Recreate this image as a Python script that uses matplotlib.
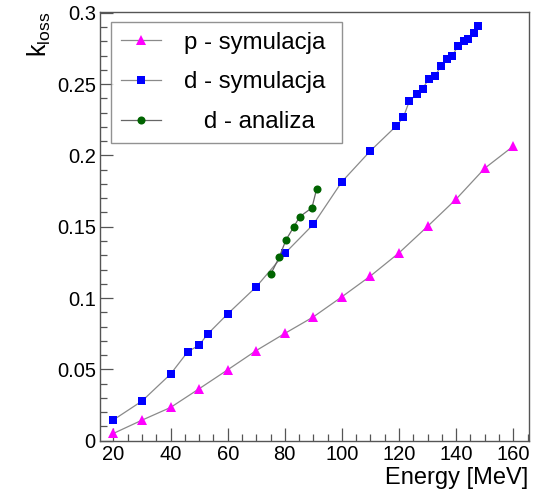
import matplotlib
matplotlib.use("Agg")
import matplotlib.pyplot as plt
from matplotlib.ticker import MultipleLocator

# ============================================
# DATA
# ============================================

energy_p = [20, 30, 40, 50, 60, 70, 80, 90, 100, 110, 120, 130, 140, 150, 160]
kloss_p = [0.0051, 0.0144, 0.0233, 0.0364, 0.0497, 0.0632, 0.0752, 0.0868,
           0.1009, 0.1155, 0.1317, 0.1503, 0.1694, 0.1910, 0.2065]

energy_d = [20, 30, 40, 46, 50, 53, 60, 70, 80, 90, 100, 110, 119, 121.5,
            123.6, 126.2, 128.3, 130.4, 132.6, 134.7, 136.9, 138.7, 140.5,
            142.6, 144.3, 146.3, 147.5]
kloss_d = [0.0146, 0.0278, 0.0467, 0.0623, 0.0670, 0.0748, 0.0889, 0.1079,
           0.1313, 0.1517, 0.1816, 0.2033, 0.2206, 0.2267, 0.2381, 0.2430,
           0.2468, 0.2538, 0.2557, 0.2627, 0.2678, 0.2697, 0.2767, 0.2800,
           0.2818, 0.2860, 0.2910]

energy_a = [75.1, 78.0, 80.4, 83.1, 85.2, 89.5, 91.1]
kloss_a = [0.1168, 0.1285, 0.1407, 0.1498, 0.1570, 0.1633, 0.1762]

labels = ["p - symulacja ", "d - symulacja ", "   d - analiza"]

# ============================================
# STYLE
# ============================================

plt.rcParams["font.family"] = ["Liberation Sans", "DejaVu Sans"]
plt.rcParams["mathtext.fontset"] = "custom"
plt.rcParams["mathtext.rm"] = "Liberation Sans"
plt.rcParams["mathtext.it"] = "Liberation Sans"

frame_col = "#555555"
line_col = "#8a8a8a"

fig = plt.figure(figsize=(5.43, 4.97), dpi=100)
ax = fig.add_axes([0.1842, 0.1133, 0.7895, 0.8632])

ax.plot(energy_p, kloss_p, color=line_col, lw=0.9, marker="^", ms=7.5,
        mfc="#ff00ff", mec="#ff00ff", mew=0, label=labels[0])
ax.plot(energy_d, kloss_d, color=line_col, lw=0.9, marker="s", ms=5.8,
        mfc="#0000ff", mec="#0000ff", mew=0, label=labels[1])
ax.plot(energy_a, kloss_a, color="#666666", lw=0.9, marker="o", ms=5.8,
        mfc="#006400", mec="#006400", mew=0, label=labels[2])

ax.set_xlim(15.3, 165.4)
ax.set_ylim(0, 0.3008)

ax.xaxis.set_major_locator(MultipleLocator(20))
ax.xaxis.set_minor_locator(MultipleLocator(5))
ax.yaxis.set_major_locator(MultipleLocator(0.05))
ax.yaxis.set_minor_locator(MultipleLocator(0.01))
ax.yaxis.set_major_formatter(lambda v, p: "0" if abs(v) < 1e-9 else f"{v:g}")

ax.tick_params(which="both", direction="in", top=False, right=False,
               color=frame_col, labelsize=14.5, width=0.9)
ax.tick_params(which="major", length=9.5, pad=3)
ax.tick_params(which="minor", length=5)

for s in ax.spines.values():
    s.set_color(frame_col)
    s.set_linewidth(1.0)

ax.set_xlabel("Energy [MeV]", loc="right", fontsize=17, labelpad=2)
ax.set_ylabel(r"k$_{\mathrm{loss}}$", loc="top", fontsize=18, labelpad=3)

leg = ax.legend(loc="upper left", bbox_to_anchor=(0.0257, 0.9753),
                fontsize=17.3, frameon=True, fancybox=False,
                handlelength=1.7, handletextpad=0.95, labelspacing=0.73,
                borderpad=0.4, borderaxespad=0)
leg.get_frame().set_edgecolor("#777777")
leg.get_frame().set_linewidth(1.0)

fig.savefig("out.png", dpi=100)
plt.close(fig)
